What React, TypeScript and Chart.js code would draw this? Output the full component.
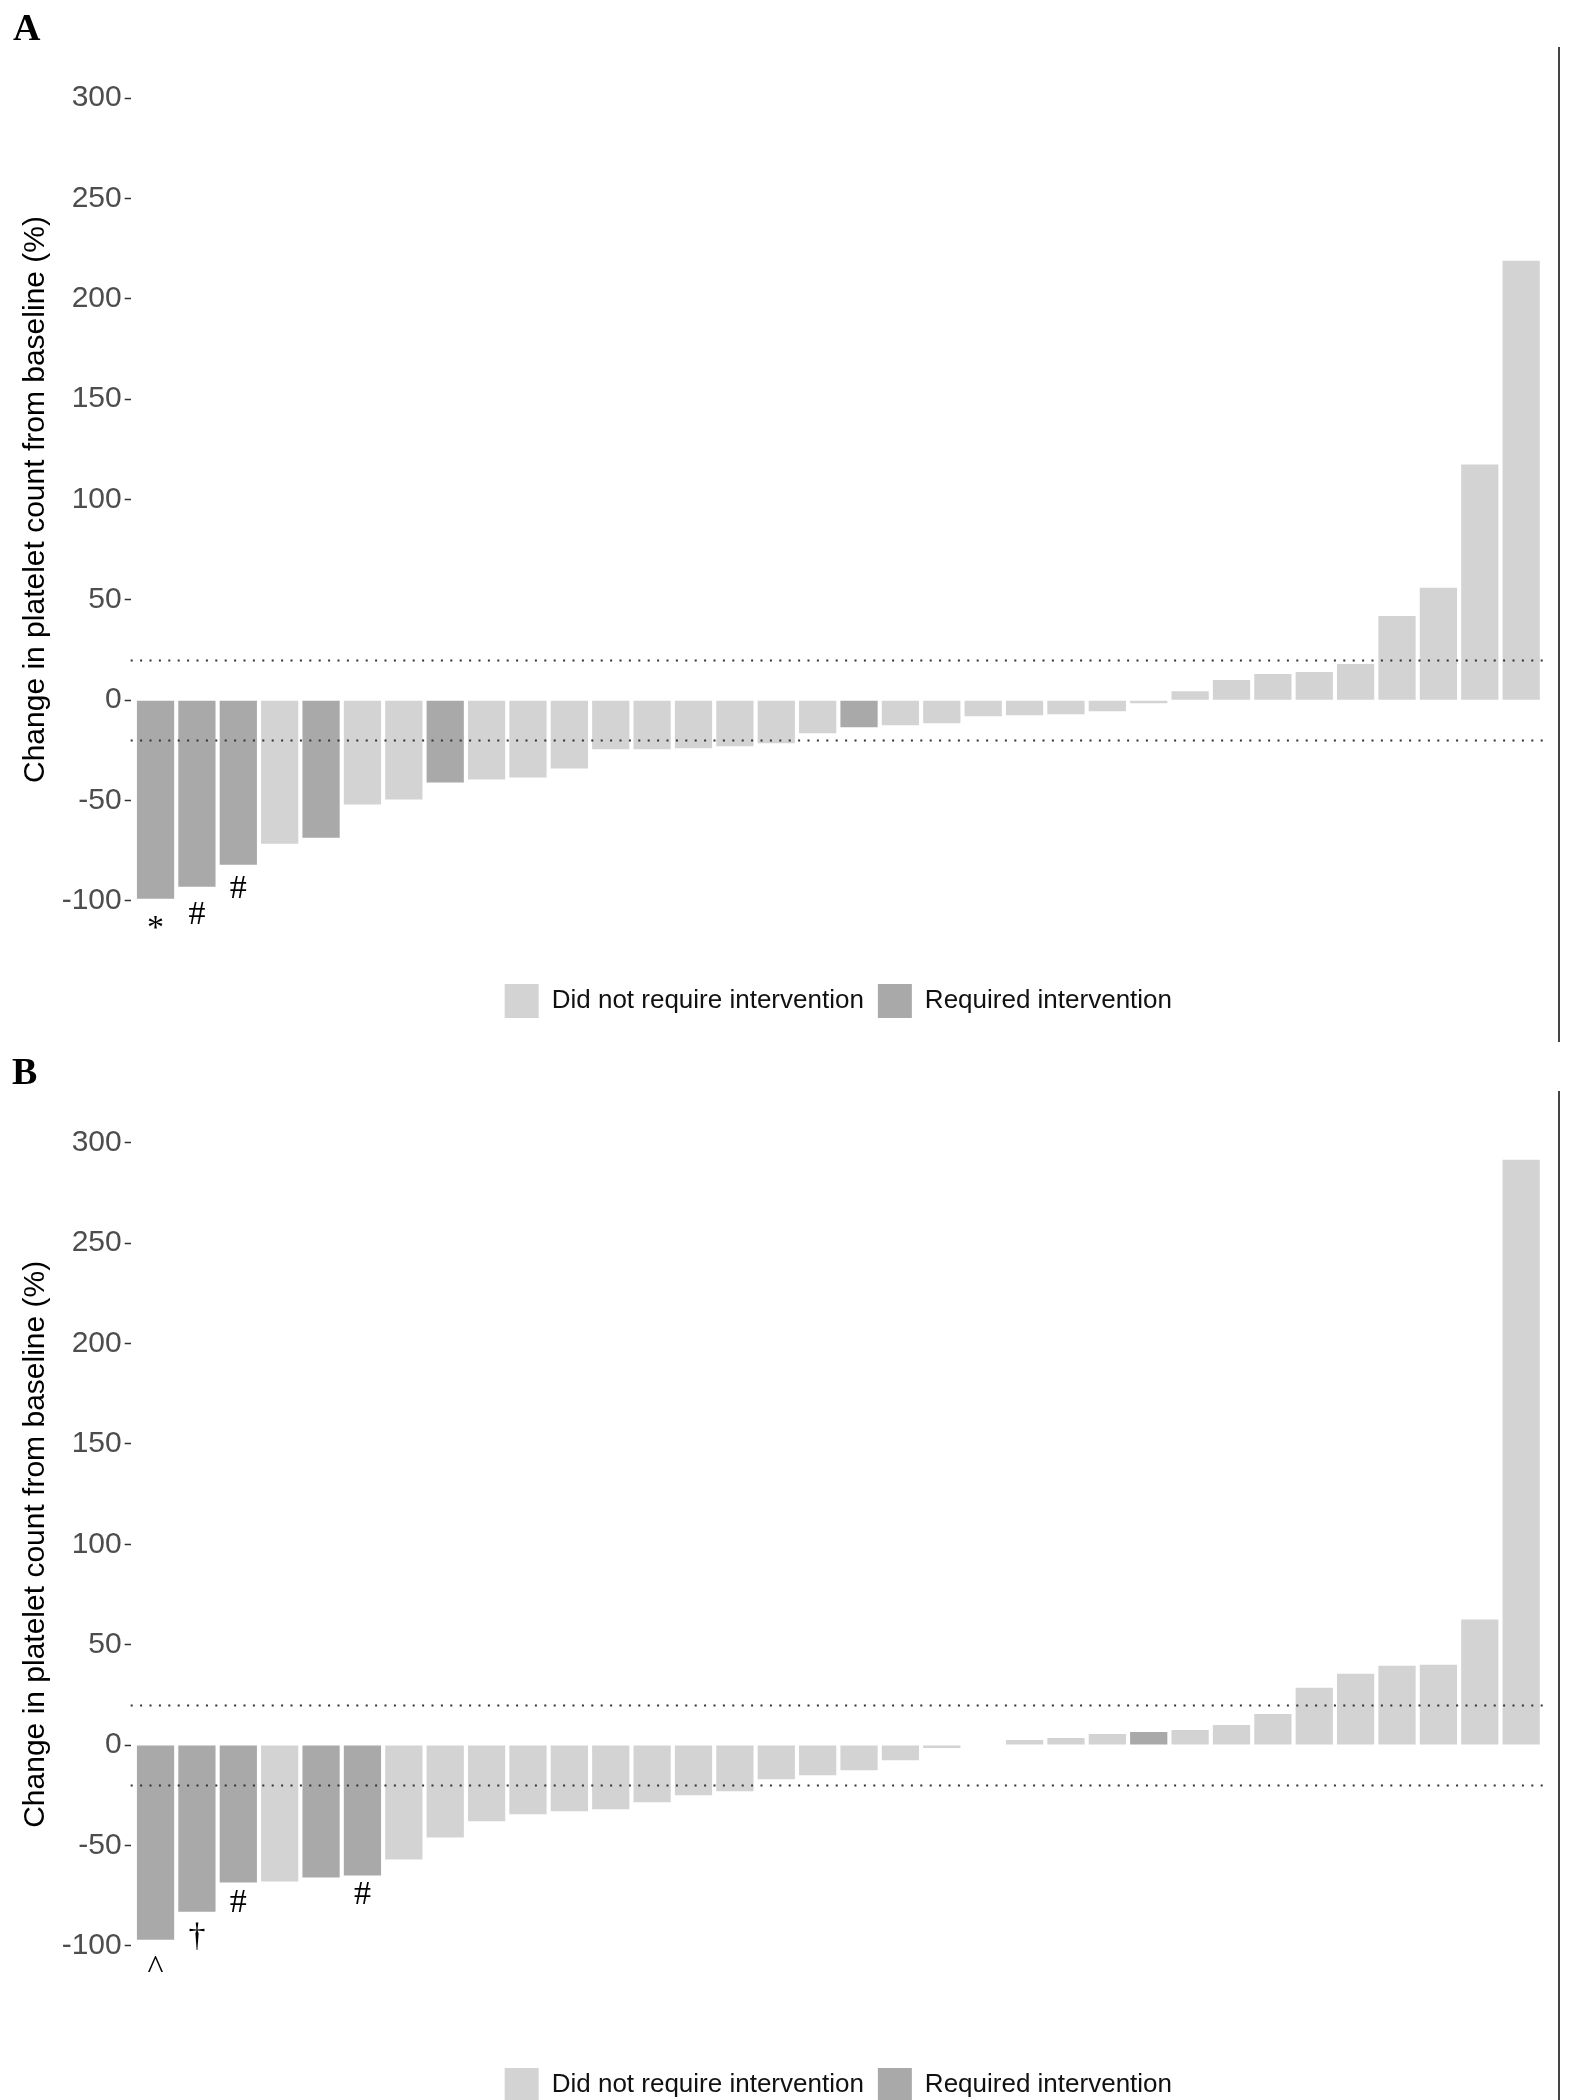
import React, { useEffect, useRef } from "react";
import { Chart, registerables } from "chart.js";

Chart.register(...registerables);

const SANS = "'Liberation Sans', Arial, Helvetica, sans-serif";
const SERIF = "'Liberation Serif', 'Times New Roman', serif";

// ---------- data ----------
const patients = [
  1, 2, 3, 4, 5, 6, 7, 8, 9, 10, 11, 12, 13, 14, 15, 16, 17,
  18, 19, 20, 21, 22, 23, 24, 25, 26, 27, 28, 29, 30, 31, 32, 33, 34,
];

const valuesA = [
  -99, -93, -82, -71.5, -68.5, -52, -49.5, -41, -39.5, -38.5, -34, -24.5,
  -24.5, -24, -23, -21.5, -16.5, -13.5, -12.5, -11.5, -8, -7.5, -7, -5.5,
  -1.5, 4.5, 10, 13, 14, 18, 42, 56, 117.5, 219,
];
// 1 = required intervention, 0 = did not require intervention
const requiredA = [
  1, 1, 1, 0, 1, 0, 0, 1, 0, 0, 0, 0, 0, 0, 0, 0, 0,
  1, 0, 0, 0, 0, 0, 0, 0, 0, 0, 0, 0, 0, 0, 0, 0, 0,
];
const markersA = [
  { index: 0, symbol: "*" },
  { index: 1, symbol: "#" },
  { index: 2, symbol: "#" },
];

const valuesB = [
  -97, -83, -68.5, -68, -66, -65, -57, -46, -38, -34.5, -33, -32, -28.5,
  -25, -23, -17, -15, -12.5, -7.5, -1.5, 0, 2.5, 3.5, 5.5, 6.5, 7.5, 10,
  15.5, 28.5, 35.5, 39.5, 40, 62.5, 291.5,
];
const requiredB = [
  1, 1, 1, 0, 1, 1, 0, 0, 0, 0, 0, 0, 0, 0, 0, 0, 0,
  0, 0, 0, 0, 0, 0, 0, 1, 0, 0, 0, 0, 0, 0, 0, 0, 0,
];
const markersB = [
  { index: 0, symbol: "^" },
  { index: 1, symbol: "\u2020" },
  { index: 2, symbol: "#" },
  { index: 5, symbol: "#" },
];

const yTicks = [-100, -50, 0, 50, 100, 150, 200, 250, 300];
const thresholds = [20, -20];
const seriesLabels = ["Did not require intervention", "Required intervention"];
const yTitle = "Change in platelet count from baseline (%)";

// label placement relative to bar end (data units multiplier)
const MARKER_POSITION_FACTOR = 1.15;

const LIGHT = "#D3D3D3";
const DARK = "#A9A9A9";

type Marker = { index: number; symbol: string };
type Geom = {
  height: number;
  padTop: number;
  xAxisHeight: number;
  padBottom: number;
};

function Panel({
  values,
  required,
  markers,
  geom,
}: {
  values: number[];
  required: number[];
  markers: Marker[];
  geom: Geom;
}) {
  const ref = useRef<HTMLCanvasElement | null>(null);

  useEffect(() => {
    if (!ref.current) return;
    const lightData: { x: number; y: number }[] = [];
    const darkData: { x: number; y: number }[] = [];
    values.forEach((v, i) => {
      const pt = { x: patients[i], y: v };
      if (required[i]) darkData.push(pt);
      else lightData.push(pt);
    });

    const thresholdPlugin = {
      id: "thresholdLines",
      afterDatasetsDraw(chart: any) {
        const { ctx, chartArea, scales } = chart;
        ctx.save();
        ctx.strokeStyle = "#333333";
        ctx.lineWidth = 2;
        ctx.setLineDash([2, 7.4]);
        thresholds.forEach((t) => {
          const y = Math.round(scales.y.getPixelForValue(t)) + 0.5;
          ctx.beginPath();
          ctx.moveTo(chartArea.left, y);
          ctx.lineTo(chartArea.right, y);
          ctx.stroke();
        });
        ctx.restore();
      },
    };

    const markerPlugin = {
      id: "barMarkers",
      afterDatasetsDraw(chart: any) {
        const { ctx, scales } = chart;
        ctx.save();
        ctx.fillStyle = "#000000";
        ctx.font = `34px ${SERIF}`;
        ctx.textAlign = "center";
        ctx.textBaseline = "middle";
        markers.forEach((m) => {
          const x = scales.x.getPixelForValue(patients[m.index]);
          const y = scales.y.getPixelForValue(
            values[m.index] * MARKER_POSITION_FACTOR
          );
          ctx.fillText(m.symbol, x, y);
        });
        ctx.restore();
      },
    };

    const chart = new Chart(ref.current, {
      type: "bar",
      data: {
        datasets: [
          {
            label: seriesLabels[0],
            data: lightData,
            backgroundColor: LIGHT,
            borderWidth: 0,
            grouped: false,
            barPercentage: 0.9,
            categoryPercentage: 1,
          } as any,
          {
            label: seriesLabels[1],
            data: darkData,
            backgroundColor: DARK,
            borderWidth: 0,
            grouped: false,
            barPercentage: 0.9,
            categoryPercentage: 1,
          } as any,
        ],
      },
      options: {
        responsive: false,
        animation: false,
        events: [],
        layout: {
          padding: {
            top: geom.padTop,
            left: 0,
            right: 25,
            bottom: geom.padBottom,
          },
        },
        scales: {
          x: {
            type: "linear",
            min: 0.4,
            max: 34.6,
            offset: false,
            afterBuildTicks: (s: any) => {
              s.ticks = patients.map((p) => ({ value: p }));
            },
            afterFit: (s: any) => {
              s.height = geom.xAxisHeight;
            },
            grid: { display: false },
            border: { display: false },
            ticks: { display: false },
          },
          y: {
            min: -120,
            max: 320,
            afterBuildTicks: (s: any) => {
              s.ticks = yTicks.map((v) => ({ value: v }));
            },
            afterFit: (s: any) => {
              s.width = 130.7;
            },
            grid: {
              drawOnChartArea: false,
              drawTicks: true,
              tickLength: 6,
              tickColor: "#333333",
              tickWidth: 1.5,
            },
            border: { display: false },
            ticks: {
              color: "#4D4D4D",
              font: { family: SANS, size: 30 },
              padding: 3,
              callback: (v: any) => String(v),
            },
            title: {
              display: true,
              text: yTitle,
              color: "#000000",
              font: { family: SANS, size: 30 },
              padding: { top: 18, bottom: 0 },
            },
          },
        },
        plugins: {
          tooltip: { enabled: false },
          legend: {
            display: true,
            position: "bottom",
            fullSize: false,
            align: "center",
            labels: {
              boxWidth: 34,
              boxHeight: 34,
              padding: 14,
              color: "#111111",
              font: { family: SANS, size: 26 },
            },
          },
        },
      } as any,
      plugins: [thresholdPlugin, markerPlugin],
    });
    return () => chart.destroy();
  }, [values, required, markers, geom]);

  return (
    <canvas
      ref={ref}
      width={1571}
      height={geom.height}
      style={{ display: "block", width: 1571, height: geom.height }}
    />
  );
}

const geomA: Geom = { height: 1050, padTop: 58, xAxisHeight: 29, padBottom: 22 };
const geomB: Geom = { height: 1075, padTop: 52.6, xAxisHeight: 68, padBottom: 13 };

const labelStyle: React.CSSProperties = {
  position: "absolute",
  fontFamily: SERIF,
  fontWeight: "bold",
  fontSize: 38,
  lineHeight: "38px",
  color: "#000",
};

export default function App() {
  return (
    <div
      style={{
        position: "absolute",
        top: 0,
        left: 0,
        width: 1571,
        height: 2100,
        overflow: "hidden",
        background: "#ffffff",
      }}
    >
      <div style={{ position: "absolute", top: 0, left: 0 }}>
        <Panel values={valuesA} required={requiredA} markers={markersA} geom={geomA} />
      </div>
      <div style={{ position: "absolute", top: 1050, left: 0 }}>
        <Panel values={valuesB} required={requiredB} markers={markersB} geom={geomB} />
      </div>
      <div style={{ ...labelStyle, top: 8, left: 13 }}>A</div>
      <div style={{ ...labelStyle, top: 1052, left: 12 }}>B</div>
      <div
        style={{
          position: "absolute",
          left: 1558,
          top: 47,
          width: 2,
          height: 995,
          background: "#444444",
        }}
      />
      <div
        style={{
          position: "absolute",
          left: 1558,
          top: 1091,
          width: 2,
          height: 1009,
          background: "#444444",
        }}
      />
    </div>
  );
}
